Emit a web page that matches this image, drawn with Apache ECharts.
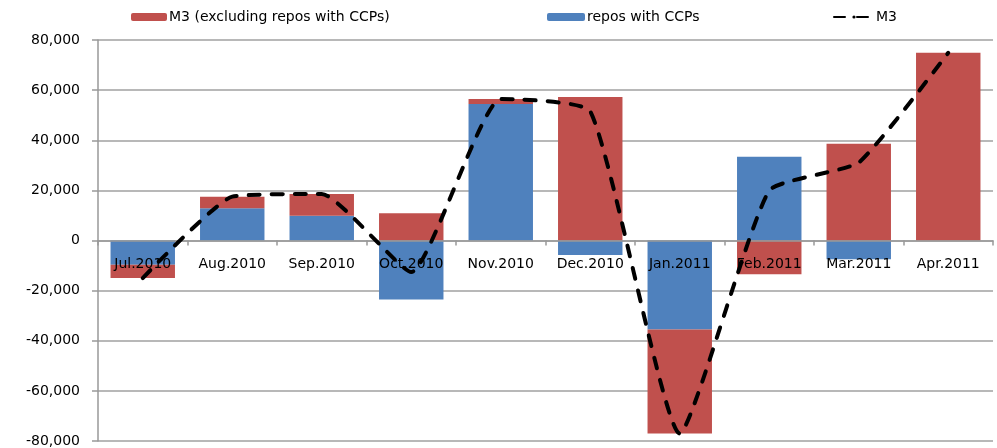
<!DOCTYPE html>
<html>
<head>
<meta charset="utf-8">
<script src="https://cdn.jsdelivr.net/npm/echarts@6/dist/echarts.min.js"></script>
<style>
  html, body { margin: 0; padding: 0; background: #fff; }
  #chart { width: 997px; height: 448px; }
</style>
</head>
<body>
<div id="chart"></div>
<script>
// months
const categories = ['Jul.2010', 'Aug.2010', 'Sep.2010', 'Oct.2010', 'Nov.2010', 'Dec.2010', 'Jan.2011', 'Feb.2011', 'Mar.2011', 'Apr.2011']
// M3 (excluding repos with CCPs)
const m3ExRepos = [-5300, 4600, 8700, 10900, 2000, 57300, -41500, -13500, 38600, 74900]
// repos with CCPs
const reposCCP = [-9700, 12900, 9900, -23500, 54500, -5800, -35500, 33400, -7500, 0]
// M3 total
const m3 = [-15000, 17500, 18600, -12600, 56500, 51500, -77000, 19900, 31100, 74900]

const labelFont = { fontFamily: 'DejaVu Sans', fontSize: 14, color: '#000' }
const names = ['M3 (excluding repos with CCPs)', 'repos with CCPs', 'M3']
const legendText = { fontFamily: 'DejaVu Sans', fontSize: 14, color: '#000', padding: [0, 0, 0, -3] }

const chart = echarts.init(document.getElementById('chart'))
const option = {
  animation: false,
  legend: [
    { data: [names[0]], left: 126, top: 5, itemWidth: 36, itemHeight: 8, textStyle: legendText },
    { data: [names[1]], left: 542, top: 5, itemWidth: 38, itemHeight: 8, textStyle: legendText },
    { data: [names[2]], left: 828, top: 5, itemWidth: 40, itemHeight: 4, textStyle: legendText }
  ],
  grid: { left: 98, right: 4, top: 40, bottom: 7, containLabel: false, outerBoundsMode: 'none' },
  xAxis: {
    type: 'category',
    data: categories,
    position: 'bottom',
    offset: -200.5,
    axisLine: { onZero: false, lineStyle: { color: '#999', width: 1.5 } },
    axisTick: { show: true, length: 5, lineStyle: { color: '#999', width: 1.5 } },
    axisLabel: { ...labelFont, margin: 17, interval: 0 },
    z: 3
  },
  yAxis: {
    type: 'value',
    min: -80000,
    max: 80000,
    interval: 20000,
    axisLine: { show: true, lineStyle: { color: '#999', width: 1.5 } },
    axisTick: { show: true, length: 6, lineStyle: { color: '#999', width: 1.5 } },
    splitLine: { lineStyle: { color: '#a0a0a0', width: 1.5 } },
    axisLabel: {
      ...labelFont, margin: 18,
      formatter: v => v.toLocaleString('en-US')
    }
  },
  series: [
    {
      name: names[1], type: 'bar', stack: 'm3', data: reposCCP, barWidth: '72%', z: 2,
      itemStyle: { color: '#4f81bd' }
    },
    {
      name: names[0], type: 'bar', stack: 'm3', data: m3ExRepos, barWidth: '72%', z: 2,
      itemStyle: { color: '#c0504d' }
    },
    {
      // round caps add ~4px to each dash
      name: names[2], type: 'line', data: m3, smooth: 0.15, symbol: 'none', z: 5,
      lineStyle: { color: '#000', width: 4, type: [11, 12], cap: 'round' },
      itemStyle: { color: '#000' }
    }
  ]
}
chart.setOption(option)
</script>
</body>
</html>
